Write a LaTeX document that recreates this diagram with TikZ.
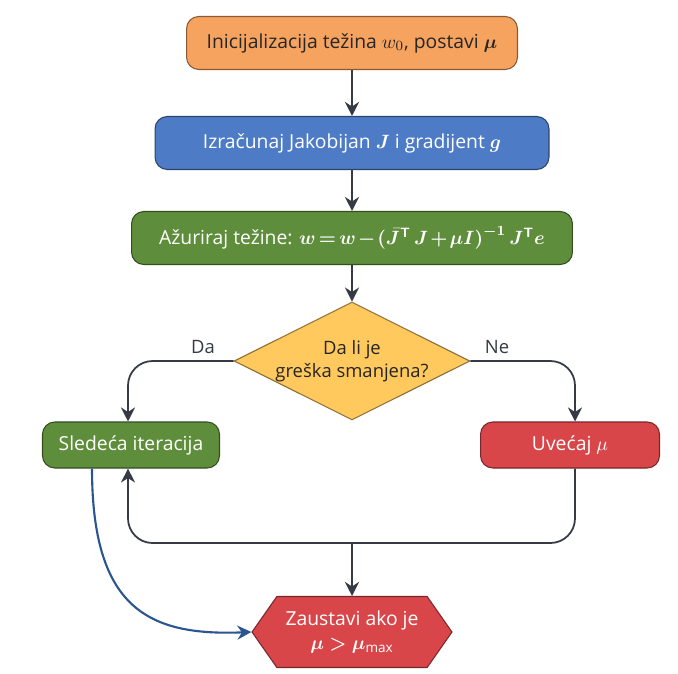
\documentclass[tikz,border=0pt]{standalone}
\usepackage{fontspec}
\setmainfont{Open Sans}
\usepackage{amsmath}
\usepackage{bm}
\usetikzlibrary{shapes.geometric, shapes.symbols, arrows.meta, positioning, calc}
\definecolor{initorange}{HTML}{F5A35F}
\definecolor{jacblue}{HTML}{4D7BC6}
\definecolor{updgreen}{HTML}{5E8D3B}
\definecolor{decyellow}{HTML}{FFC95E}
\definecolor{incred}{HTML}{D9464A}
\definecolor{linegray}{HTML}{363A44}
\definecolor{curveblue}{HTML}{2A5590}

\begin{document}
\begin{tikzpicture}[x=0.02cm, y=-0.02cm,
    stepbox/.style={rectangle, rounded corners=7pt, draw=#1!55!black, fill=#1, line width=0.6pt, minimum height=1.06cm, align=center, font=\fontsize{11}{13}\selectfont},
    decision/.style={diamond, draw=decyellow!55!black, fill=decyellow, line width=0.6pt, aspect=2, minimum width=4.56cm, minimum height=2.26cm, inner sep=0pt, align=center, font=\fontsize{10.5}{13}\selectfont},
    stopbox/.style={signal, signal to=west and east, signal pointer angle=110, draw=incred!55!black, fill=incred, line width=0.6pt, minimum width=4cm, minimum height=1.42cm, align=center, text=white, font=\fontsize{11}{14}\selectfont},
    flow/.style={-{Stealth[length=8pt,width=8pt]}, line width=1pt, draw=linegray},
    branch/.style={font=\fontsize{10.5}{12}\selectfont, text=linegray}
]
\fill[white] (0,0) rectangle (678,673);
\useasboundingbox (0,0) rectangle (678,673);

% main column
\node[stepbox=initorange, minimum width=6.62cm, text=black!85] (init) at (352,43) {Inicijalizacija težina $w_0$, postavi $\bm{\mu}$};
\node[stepbox=jacblue, minimum width=7.88cm, text=white] (jac) at (352,143) {Izračunaj Jakobijan $\bm{J}$ i gradijent $\bm{g}$};
\node[stepbox=updgreen, minimum width=8.82cm, text=white] (upd) at (352,238) {Ažuriraj težine: $\medmuskip=2mu \thickmuskip=3mu \bm{w = w - (\bar{J}^{\mathsf{T}}\, J + \mu I)^{-1}\, J^{\mathsf{T}} e}$};
\node[decision, text=black!85] (dec) at (352,361) {Da li je\\greška smanjena?};

% branches
\node[stepbox=updgreen, minimum width=3.54cm, minimum height=0.92cm, text=white] (next) at (131,445) {Sledeća iteracija};
\node[stepbox=incred, minimum width=3.58cm, minimum height=0.92cm, text=white] (inc) at (570,445) {Uvećaj $\mu$};
\node[stopbox] (stop) at (352,632) {Zaustavi ako je\\$\bm{\mu > \mu}_{\text{max}}$};

\node[branch] (yes) at (203,347) {Da};
\node[branch] (no) at (497,347) {Ne};
\coordinate (join) at (352,543);

\draw[flow] (init) -- (jac);
\draw[flow] (jac) -- (upd);
\draw[flow] (upd) -- (dec);
\draw[flow, rounded corners=14pt] (dec.west) -| ([xshift=-0.06cm]next.north);
\draw[flow, rounded corners=14pt] (dec.east) -| ([xshift=0.1cm]inc.north);
\draw[flow, rounded corners=14pt] ([xshift=0.1cm]inc.south) |- (join) -| ([xshift=-0.06cm]next.south);
\draw[flow] (join) -- (stop.north);
\draw[flow, draw=curveblue, line width=1.2pt] ([xshift=-0.78cm]next.south) .. controls (92,610) and (150,636) .. (stop.west);
\end{tikzpicture}
\end{document}
